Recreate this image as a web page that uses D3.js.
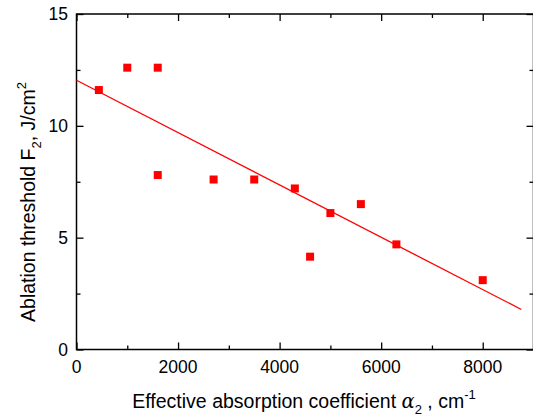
<!DOCTYPE html>
<html>
<head>
<meta charset="utf-8">
<script src="https://cdn.jsdelivr.net/npm/d3@7"></script>
<style>
  body { margin: 0; background: #fff; }
  svg { display: block; font-family: Arial, "Liberation Sans", sans-serif; }
</style>
</head>
<body>
<div id="c1"></div>
<script>
// Data
var alpha = [440, 1000, 1600, 1600, 2700, 3500, 4300, 4600, 5000, 5600, 6300, 8000];
var fluence = [11.6, 12.6, 12.6, 7.8, 7.6, 7.6, 7.2, 4.15, 6.1, 6.5, 4.7, 3.1];
var fitX = [0, 8760];
var fitY = [12.04, 1.79];
var xTicks = [0, 2000, 4000, 6000, 8000];
var yTicks = [0, 5, 10, 15];
var xMinor = [1000, 3000, 5000, 7000, 9000];
var yMinor = [2.5, 7.5, 12.5];

var w = 533, h = 417;
var pLeft = 76.5, pRight = 533.5, pTop = 14, pBottom = 349.5;

var svg = d3.select("#c1").append("svg")
    .attr("width", w)
    .attr("height", h);

var x = d3.scaleLinear().domain([0, 9000]).range([pLeft, pRight]);
var y = d3.scaleLinear().domain([0, 15]).range([pBottom, pTop]);

// Ticks (all pointing inward, mirrored on top / right)
function tickAxis(axis, ticks, len) {
    return axis.tickValues(ticks).tickSizeInner(-len).tickSizeOuter(0).tickFormat("");
}

var g = svg.append("g").attr("class", "axes");

g.append("g").attr("transform", "translate(0," + pBottom + ")")
    .call(tickAxis(d3.axisBottom(x), xTicks, 7));
g.append("g").attr("transform", "translate(0," + pBottom + ")")
    .call(tickAxis(d3.axisBottom(x), xMinor, 4));
g.append("g").attr("transform", "translate(0," + pTop + ")")
    .call(tickAxis(d3.axisTop(x), xTicks, 7));
g.append("g").attr("transform", "translate(0," + pTop + ")")
    .call(tickAxis(d3.axisTop(x), xMinor, 4));
g.append("g").attr("transform", "translate(" + pLeft + ",0)")
    .call(tickAxis(d3.axisLeft(y), yTicks, 7));
g.append("g").attr("transform", "translate(" + pLeft + ",0)")
    .call(tickAxis(d3.axisLeft(y), yMinor, 4));
g.append("g").attr("transform", "translate(" + pRight + ",0)")
    .call(tickAxis(d3.axisRight(y), yTicks, 7));
g.append("g").attr("transform", "translate(" + pRight + ",0)")
    .call(tickAxis(d3.axisRight(y), yMinor, 4));

g.selectAll(".domain").remove();
g.selectAll(".tick line").attr("stroke", "#000").attr("stroke-width", 1.3);

// Frame
svg.append("rect")
    .attr("x", pLeft).attr("y", pTop)
    .attr("width", pRight - pLeft).attr("height", pBottom - pTop)
    .attr("fill", "none").attr("stroke", "#000").attr("stroke-width", 1.5);

// Tick labels
svg.selectAll("text.xl")
    .data(xTicks)
    .enter().append("text")
    .attr("x", function (d) { return x(d); })
    .attr("y", 373)
    .attr("text-anchor", "middle")
    .attr("font-size", 17.5)
    .text(function (d) { return d; });

svg.selectAll("text.yl")
    .data(yTicks)
    .enter().append("text")
    .attr("x", 68)
    .attr("y", function (d) { return y(d) + 6; })
    .attr("text-anchor", "end")
    .attr("font-size", 17.5)
    .text(function (d) { return d; });

// Axis titles
var xt = svg.append("text")
    .attr("x", 304).attr("y", 408)
    .attr("text-anchor", "middle")
    .attr("font-size", 19.5);
xt.append("tspan").text("Effective absorption coefficient ");
xt.append("tspan").attr("font-family", "'DejaVu Serif', 'Liberation Serif', serif").attr("font-style", "italic").text("\u03b1");
xt.append("tspan").attr("font-size", 13).attr("dy", 6).text("2");
xt.append("tspan").attr("dy", -6).text(" , cm");
xt.append("tspan").attr("font-size", 13).attr("dy", -9).text("-1");

var yt = svg.append("text")
    .attr("transform", "translate(35,202) rotate(-90)")
    .attr("text-anchor", "middle")
    .attr("font-size", 19.5);
yt.append("tspan").text("Ablation threshold F");
yt.append("tspan").attr("font-size", 13).attr("dy", 6).text("2");
yt.append("tspan").attr("dy", -6).text(", J/cm");
yt.append("tspan").attr("font-size", 13).attr("dy", -9).text("2");

// Fit line
svg.append("line")
    .attr("x1", x(fitX[0])).attr("y1", y(fitY[0]))
    .attr("x2", x(fitX[1])).attr("y2", y(fitY[1]))
    .attr("stroke", "#ff0000").attr("stroke-width", 1.3);

// Points
var s = 8;
svg.selectAll("rect.pt")
    .data(alpha)
    .enter().append("rect")
    .attr("class", "pt")
    .attr("x", function (d) { return x(d) - s / 2; })
    .attr("y", function (d, i) { return y(fluence[i]) - s / 2; })
    .attr("width", s).attr("height", s)
    .attr("fill", "#ff0000");
</script>
</body>
</html>
